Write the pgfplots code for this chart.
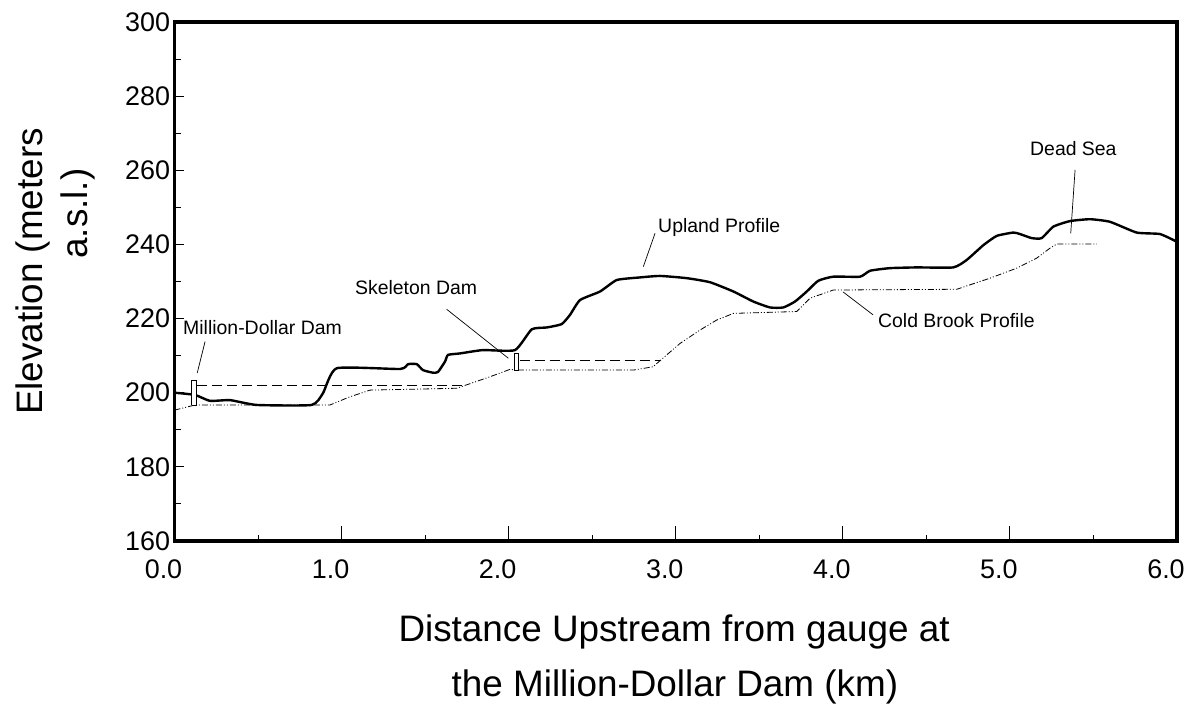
\documentclass[border=0pt]{standalone}
\usepackage{fontspec}
\setmainfont{Liberation Sans}
\usepackage{pgfplots}
\pgfplotsset{compat=1.18}
\newcommand{\annfont}{\fontsize{19.5}{22}\selectfont}
\newcommand{\labfont}{\fontsize{37}{40}\selectfont}
\newcommand{\tickfont}{\fontsize{27}{29}\selectfont}
\begin{document}
\begin{tikzpicture}
\path[use as bounding box] (0,0) rectangle (1191bp,717bp);
\begin{axis}[
  at={(174.5bp,176bp)}, anchor=south west,
  scale only axis, width=1002.5bp, height=519bp,
  xmin=0, xmax=6, ymin=160, ymax=300,
  clip=false,
  axis line style={line width=3.5bp},
  xtick={0,1,2,3,4,5,6}, minor x tick num=1,
  ytick={160,180,200,220,240,260,280,300}, minor y tick num=1,
  xticklabel={\tickfont\pgfmathprintnumber[fixed,fixed zerofill,precision=1,assume math mode=true]{\tick}},
  yticklabel={\tickfont\pgfmathprintnumber[fixed,precision=0,assume math mode=true]{\tick}},
  tick pos=left, tick align=inside,
  major tick length=9bp, minor tick length=6bp,
  xtick style={/pgfplots/major tick length=15bp},
  tick style={black, line width=1bp},
  tick label style={font=\tickfont},
  xticklabel style={xshift=-11bp, yshift=-15bp},
  yticklabel style={xshift=-1bp},
]
% Upland profile
\addplot[black, line width=2.4bp, smooth, tension=0.3] coordinates {
(0.00,200.0) (0.123,199.4) (0.212,197.8) (0.332,198.0) (0.492,196.7)
(0.821,196.7) (0.889,199.9) (0.971,206.6) (1.350,206.4) (1.398,207.7)
(1.450,207.7) (1.487,206.1) (1.547,205.4) (1.577,205.6) (1.619,208.4)
(1.637,210.2) (1.709,210.6) (1.846,211.5) (2.038,211.5) (2.138,217.1)
(2.228,217.6) (2.317,218.5) (2.367,221.0) (2.427,225.0) (2.547,227.3)
(2.647,230.4) (2.786,231.1) (2.906,231.5) (3.066,230.9) (3.205,229.8)
(3.345,227.3) (3.464,224.6) (3.564,223.0) (3.644,223.0) (3.714,224.6)
(3.784,227.3) (3.853,230.2) (3.943,231.3) (4.103,231.3) (4.163,232.9)
(4.282,233.6) (4.442,233.8) (4.661,233.8) (4.741,235.8) (4.841,239.8)
(4.921,242.3) (5.020,243.2) (5.060,242.8) (5.131,241.7) (5.190,241.7)
(5.260,244.8) (5.360,246.3) (5.480,246.8) (5.599,246.1) (5.759,243.2)
(5.898,242.8) (6.000,240.7)
};
% Cold Brook profile
\addplot[black, line width=0.8bp, dash pattern=on 6bp off 2bp on 1bp off 2bp on 1bp off 2bp] coordinates {
(0.00,195.3) (0.123,196.7) (0.931,196.7) (1.050,198.9) (1.170,200.7)
(1.689,201.2) (1.888,204.3) (2.008,206.3) (2.048,206.1) (2.746,206.1)
(2.864,207.0) (2.946,210.2) (3.026,213.3) (3.145,216.9) (3.245,219.6)
(3.345,221.4) (3.724,221.9) (3.804,225.5) (3.943,227.7) (4.682,227.9)
(4.741,228.8) (4.881,230.9) (5.041,233.6) (5.160,236.3) (5.240,239.0)
(5.280,240.1) (5.520,240.1)
};
% impoundment levels
\addplot[black, line width=1.2bp, dash pattern=on 10bp off 5bp] coordinates {(0.135,201.9) (1.727,201.9)};
\addplot[black, line width=1.2bp, dash pattern=on 10bp off 5bp] coordinates {(2.065,208.6) (2.906,208.6)};
% dams
\addplot[black, line width=0.8bp, fill=white] coordinates {(0.103,196.7) (0.133,196.7) (0.133,203.4) (0.103,203.4) (0.103,196.7)};
\addplot[black, line width=0.8bp, fill=white] coordinates {(2.032,206.1) (2.058,206.1) (2.058,210.6) (2.032,210.6) (2.032,206.1)};
% annotations
\node[anchor=base west, font=\annfont, inner sep=0pt] at (axis cs:0.051,215.8) {Million-Dollar Dam};
\draw[black, line width=0.7bp] (axis cs:0.183,213.8) -- (axis cs:0.136,205.3);
\node[anchor=base west, font=\annfont, inner sep=0pt] at (axis cs:1.080,226.4) {Skeleton Dam};
\draw[black, line width=0.7bp] (axis cs:1.629,222.5) -- (axis cs:1.998,209.3);
\node[anchor=base west, font=\annfont, inner sep=0pt] at (axis cs:2.894,243.1) {Upland Profile};
\draw[black, line width=0.7bp] (axis cs:2.876,243.0) -- (axis cs:2.806,234.0);
\node[anchor=base west, font=\annfont, inner sep=0pt] at (axis cs:4.210,217.7) {Cold Brook Profile};
\draw[black, line width=0.7bp] (axis cs:4.001,227.2) -- (axis cs:4.181,221.0);
\node[anchor=base west, font=\annfont, inner sep=0pt] at (axis cs:5.120,264.1) {Dead Sea};
\draw[black, line width=0.7bp] (axis cs:5.390,260.1) -- (axis cs:5.364,243.0);
% axis titles
\node[anchor=base, font=\labfont, inner sep=0pt] at (axis cs:2.990,132.8) {Distance Upstream from gauge at};
\node[anchor=base, font=\labfont, inner sep=0pt] at (axis cs:2.995,118.0) {the Million-Dollar Dam (km)};
\node[anchor=base, rotate=90, font=\labfont, inner sep=0pt] at (axis cs:-0.793,232.7) {Elevation (meters};
\node[anchor=base, rotate=90, font=\labfont, inner sep=0pt] at (axis cs:-0.518,248.3) {a.s.l.)};
\end{axis}
\end{tikzpicture}
\end{document}
